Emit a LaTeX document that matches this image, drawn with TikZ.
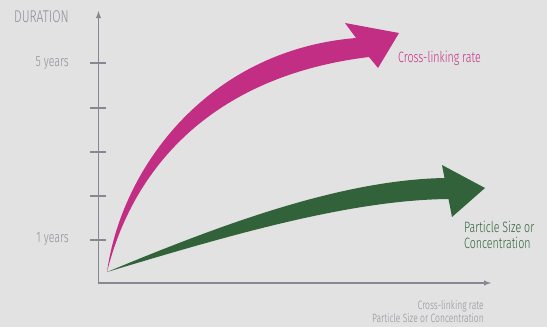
\documentclass[tikz,border=0pt]{standalone}
\usepackage{fontspec}
\setmainfont{Fira Sans}[UprightFont={* Light},FakeStretch=0.71]
\usetikzlibrary{calc}
\definecolor{paper}{HTML}{E2E2E2}
\definecolor{axisgray}{HTML}{878794}
\definecolor{textgray}{HTML}{8E8E9A}
\definecolor{ratepink}{HTML}{C22E83}
\definecolor{sizegreen}{HTML}{31623A}

\begin{document}
\begin{tikzpicture}[
 x=1pt,y=-1pt,
 >={latex},
 inner sep=0pt,
 axis/.style={draw=axisgray,line width=1.4pt},
 axislabel/.style={text=textgray,font=\fontsize{15}{17}\selectfont},
 smalllabel/.style={text=textgray,font=\fontsize{12}{13}\selectfont,align=right},
 rate/.style={fill=ratepink},
 size/.style={fill=sizegreen},
 ratetext/.style={text=ratepink,font=\fontsize{15}{17}\selectfont},
 sizetext/.style={text=sizegreen,font=\fontsize{15}{16}\selectfont,align=left}
]
\fill[paper] (0,0) rectangle (547,327);
\useasboundingbox (0,0) rectangle (547,327);
% axes
\coordinate (corner) at (98.5,283);
\coordinate (y-end) at (98.5,11);
\coordinate (x-end) at (491,283);
\draw[axis,<->] (y-end) -- (corner) -- (x-end);
\foreach \ty in {63,108,152,196,240}
 \draw[axis] (90,\ty) -- (106,\ty);
\node (duration) [axislabel,anchor=east,font=\fontsize{17}{19}\selectfont] at (69,17) {DURATION};
\node (five-years) [axislabel,anchor=east] at (69,63) {5 years};
\node (one-years) [axislabel,anchor=east] at (69,239) {1 years};
\node (x-label) [smalllabel,anchor=east] at (484,311.5) {Cross-linking rate\\Particle Size or Concentration};
% curved arrows
\coordinate (start) at (107,272);
\fill[rate] (start) .. controls (122,165) and (210,50) .. (356,38)
 -- (345,23) -- (399,33) -- (378,68) -- (369,57)
 .. controls (220,75) and (135,160) .. (start);
\fill[size] (start) .. controls (220,225) and (340,180) .. (444.5,178)
 -- (442,165) -- (485,188) -- (452,217) -- (448.5,199)
 .. controls (350,200) and (230,235) .. (start);
\node (rate-label) [ratetext,anchor=west] at (398,58) {Cross-linking rate};
\node (size-label) [sizetext,anchor=west] at (464,235) {Particle Size or\\Concentration};
\end{tikzpicture}
\end{document}
